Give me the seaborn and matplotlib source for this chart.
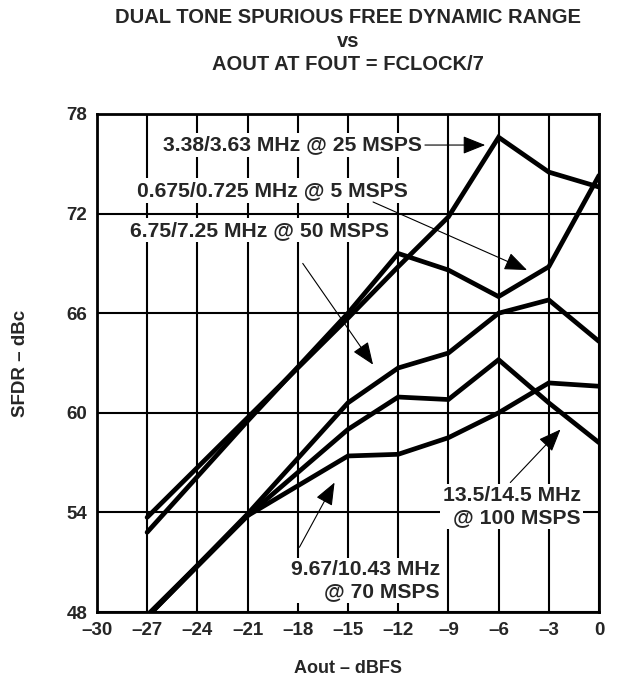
"""Dual tone SFDR vs Aout at Fout = Fclock/7"""
import matplotlib
matplotlib.use('Agg')
import matplotlib.pyplot as plt
import seaborn as sns

#data
aout_dbfs = [-27, -21, -15, -12, -9, -6, -3, 0]
sfdr_25msps = [53.7, 59.7, 65.7, 68.8, 71.8, 76.6, 74.5, 73.6]
sfdr_5msps = [52.8, 59.5, 66.0, 69.6, 68.6, 67.0, 68.8, 74.3]
sfdr_50msps = [47.7, 53.9, 60.6, 62.7, 63.6, 66.0, 66.8, 64.3]
sfdr_70msps = [47.8, 53.8, 57.4, 57.5, 58.5, 60.0, 61.8, 61.6]
sfdr_100msps = [47.7, 53.8, 59.0, 60.95, 60.8, 63.2, 60.6, 58.2]

x_ticks = list(range(-30, 1, 3))
y_ticks = list(range(48, 79, 6))

sns.set_style('white')
plt.rcParams['font.family'] = ['Liberation Sans', 'DejaVu Sans']
plt.rcParams['font.weight'] = 'bold'
plt.rcParams['axes.unicode_minus'] = False

fig = plt.figure(figsize=(6.21, 6.81), dpi=100)
ax = fig.add_axes([0.156, 0.1013, 0.8086, 0.7313])

#curves
for series in [sfdr_25msps, sfdr_5msps, sfdr_50msps, sfdr_70msps, sfdr_100msps]:
    sns.lineplot(x=aout_dbfs, y=series, ax=ax, color='black', lw=3.4,
                 zorder=3, solid_joinstyle='miter')

ax.set_xlim(-30, 0)
ax.set_ylim(48, 78)
ax.set_xticks(x_ticks)
ax.set_yticks(y_ticks)
ax.set_xticklabels([f'{t}'.replace('-', '\u2013') for t in x_ticks])
ax.set_yticklabels([str(t) for t in y_ticks])
ax.tick_params(length=0, labelsize=13.5, pad=7)
for lbl in ax.get_xticklabels() + ax.get_yticklabels():
    lbl.set_fontweight('bold')

ax.grid(True, color='black', lw=1.5)
ax.set_axisbelow(True)
for sp in ax.spines.values():
    sp.set_linewidth(2.0)
    sp.set_color('black')
    sp.set_zorder(4)

ax.set_xlabel('Aout \u2013 dBFS', fontsize=13, fontweight='bold', labelpad=15)
ax.set_ylabel('SFDR \u2013 dBc', fontsize=13.5, fontweight='bold', labelpad=27)
fig.text(0.5604, 0.988, 'DUAL TONE SPURIOUS FREE DYNAMIC RANGE\nvs\nAOUT AT FOUT = FCLOCK/7',
         ha='center', va='top', fontsize=14.5, fontweight='bold', linespacing=1.3)

#labels with white boxes that cut the grid
box = dict(facecolor='white', edgecolor='none', pad=2)
def label(x, y, s, ha='left', ma='left'):
    ax.text(x, y, s, ha=ha, va='center', ma=ma, fontsize=15.2, fontweight='bold',
            bbox=box, zorder=2, linespacing=1.15)

def arrow(start, tip):
    ax.annotate('', xy=tip, xytext=start, zorder=2,
                arrowprops=dict(arrowstyle='-|>,head_length=1.0,head_width=0.4',
                                mutation_scale=14, lw=0.8, color='black',
                                shrinkA=0, shrinkB=0))

label(-26.05, 76.13, '3.38/3.63 MHz @ 25 MSPS')
arrow((-10.4, 76.13), (-6.8, 76.13))
label(-27.6, 73.4, '0.675/0.725 MHz @ 5 MSPS')
arrow((-13.5, 72.7), (-4.3, 68.6))
label(-28.0, 71.0, '6.75/7.25 MHz @ 50 MSPS')
arrow((-17.7, 69.0), (-13.5, 62.9))
label(-9.5, 49.9, '9.67/10.43 MHz\n@ 70 MSPS', ha='right', ma='right')
arrow((-17.9, 51.9), (-15.8, 55.8))
label(-1.1, 54.35, '13.5/14.5 MHz\n@ 100 MSPS', ha='right', ma='right')
arrow((-5.3, 55.8), (-2.3, 59.0))

fig.savefig('out.png', dpi=100)
